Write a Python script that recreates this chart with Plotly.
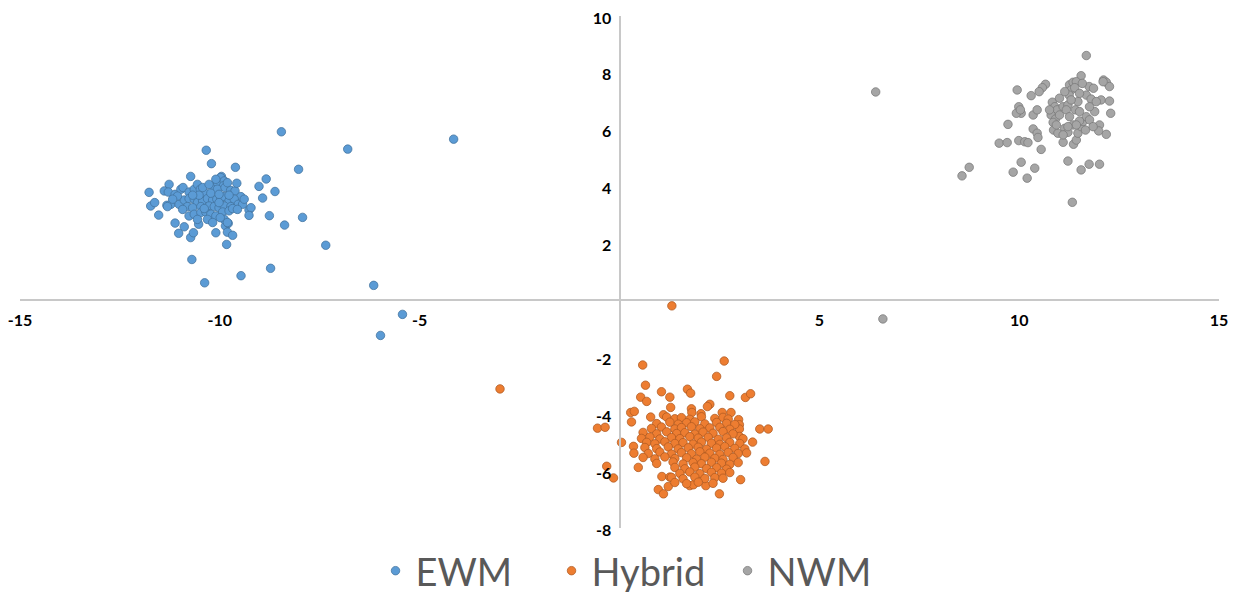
import plotly.graph_objects as go

series_names = ["EWM", "Hybrid", "NWM"]
series_colors = ["#5B9BD5", "#ED7D31", "#A5A5A5"]
series_edges = ["#41719C", "#AE5A21", "#787878"]

x_ticks = [-15, -10, -5, 5, 10, 15]
y_ticks = [-8, -6, -4, -2, 2, 4, 6, 8, 10]

ewm_points = [
    (-8.46, 5.93), (-10.34, 5.28), (-10.21, 4.81), (-9.61, 4.68), (-10.73, 4.36), (-8.84, 4.27),
    (-9.96, 4.36), (-9.02, 4.01), (-8.62, 3.83), (-8.93, 3.60), (-11.77, 3.80), (-11.27, 4.08),
    (-11.73, 3.32), (-11.63, 3.44), (-11.53, 3.00), (-8.76, 2.98), (-8.38, 2.65), (-9.27, 3.18),
    (-9.22, 3.26), (-9.27, 2.99), (-11.12, 2.72), (-10.89, 2.59), (-11.03, 2.36), (-10.73, 2.21),
    (-10.66, 2.38), (-10.53, 2.68), (-10.10, 2.38), (-9.83, 1.97), (-9.86, 2.62), (-9.79, 2.71),
    (-9.81, 2.40), (-9.68, 2.29), (-10.70, 1.44), (-8.73, 1.13), (-9.47, 0.87), (-10.38, 0.62),
    (-6.80, 5.32), (-4.15, 5.67), (-8.03, 4.61), (-7.93, 2.92), (-7.35, 1.94), (-6.15, 0.53),
    (-5.43, -0.49), (-5.98, -1.23),
    (-11.39, 3.85), (-11.29, 3.81), (-11.12, 3.73), (-10.975, 3.91), (-10.92, 3.97), (-10.77, 3.81),
    (-10.64, 3.91), (-10.56, 4.08), (-10.49, 3.91), (-10.35, 3.77), (-10.16, 4.03), (-10.06, 4.14),
    (-9.98, 4.32), (-9.89, 4.20), (-9.91, 4.03), (-10.06, 3.91), (-9.87, 3.97), (-9.73, 3.87),
    (-9.62, 3.85), (-9.575, 4.12), (-9.475, 3.65), (-11.325, 3.345), (-11.225, 3.38), (-11.02, 3.38),
    (-10.89, 3.53), (-10.77, 3.58), (-10.64, 3.56), (-10.56, 3.44), (-10.43, 3.50), (-10.31, 3.58),
    (-10.18, 3.53), (-10.075, 3.56), (-9.975, 3.58), (-9.89, 3.65), (-9.77, 3.50), (-9.64, 3.56),
    (-9.54, 3.38), (-9.43, 3.38), (-10.81, 3.30), (-10.68, 3.26), (-10.475, 3.30), (-10.27, 3.32),
    (-10.14, 3.30), (-10.02, 3.26), (-9.89, 3.32), (-9.725, 3.30), (-11.31, 3.30), (-10.77, 2.97),
    (-10.64, 3.03), (-10.475, 3.09), (-10.35, 3.11), (-10.225, 3.03), (-10.10, 2.97), (-9.93, 3.11),
    (-9.77, 3.15), (-9.68, 3.23), (-10.56, 2.85), (-10.31, 2.85), (-10.18, 2.74), (-9.89, 2.85),
    (-9.81, 2.74), (-9.99, 2.91), (-10.39, 3.23),
    (-11.06, 3.67), (-11.18, 3.56), (-10.52, 3.70), (-10.225, 3.77), (-10.02, 3.73), (-9.77, 3.70),
    (-10.68, 3.70), (-10.93, 3.20), (-9.56, 3.20), (-9.39, 3.56), (-10.43, 3.97), (-10.27, 4.08),
    (-10.10, 4.26), (-9.81, 4.14), (-10.02, 3.44),
]

hybrid_points = [
    (0.58, -2.27), (2.62, -2.13), (2.43, -2.67), (0.65, -2.98), (1.05, -3.21), (0.53, -3.40),
    (0.68, -3.55), (1.26, -3.40), (1.70, -3.12), (1.78, -3.26), (2.76, -3.35), (3.15, -3.41),
    (3.28, -3.28), (0.28, -3.94), (0.37, -3.90), (0.30, -4.27), (0.78, -4.10), (1.10, -4.02),
    (1.28, -3.76), (-0.55, -4.49), (-0.36, -4.46), (0.05, -4.99), (3.51, -4.52), (3.72, -4.52),
    (3.33, -4.98), (3.64, -5.66), (-0.32, -5.83), (-0.15, -6.24), (0.47, -5.87), (0.35, -5.13),
    (0.36, -5.37), (0.97, -6.65), (1.10, -6.80), (1.22, -6.54), (1.06, -6.19), (1.26, -6.21),
    (2.50, -6.80), (3.03, -6.30), (2.16, -6.51), (1.76, -6.51), (1.85, -6.48), (2.26, -3.65),
    (2.20, -3.73), (1.80, -3.81), (1.81, -3.94), (2.04, -3.98), (2.57, -3.94), (2.79, -3.94),
    (2.98, -4.19), (3.00, -4.37), (3.00, -4.52), (3.00, -4.78), (1.31, -0.19), (-2.99, -3.11),
    (1.18, -4.10), (1.385, -4.16), (1.55, -4.12), (1.76, -4.18), (2.05, -4.09), (2.385, -4.15),
    (2.59, -4.11), (2.72, -4.17),
    (0.93, -4.33), (1.26, -4.28), (1.47, -4.35), (1.68, -4.30), (1.885, -4.27), (2.135, -4.34),
    (2.43, -4.29), (2.68, -4.32), (2.885, -4.36),
    (0.80, -4.50), (1.05, -4.45), (1.385, -4.52), (1.55, -4.47), (1.80, -4.44), (2.01, -4.51),
    (2.26, -4.48), (2.51, -4.46), (2.76, -4.53),
    (0.59, -4.64), (0.93, -4.69), (1.18, -4.62), (1.43, -4.68), (1.635, -4.65), (1.885, -4.70),
    (2.09, -4.63), (2.34, -4.67), (2.59, -4.61), (2.84, -4.69),
    (0.55, -4.85), (0.76, -4.80), (1.01, -4.87), (1.30, -4.82), (1.51, -4.86), (1.76, -4.79),
    (1.97, -4.84), (2.22, -4.81), (2.47, -4.88), (2.68, -4.83), (3.09, -4.86),
    (0.68, -4.99), (0.885, -5.04), (1.135, -4.97), (1.385, -5.03), (1.59, -5.00), (1.84, -5.05),
    (2.05, -4.98), (2.30, -5.02), (2.51, -5.06), (2.76, -4.99), (3.01, -5.03),
    (0.635, -5.17), (0.93, -5.21), (1.22, -5.15), (1.47, -5.22), (1.72, -5.18), (1.97, -5.16),
    (2.18, -5.23), (2.43, -5.19), (2.635, -5.14), (2.885, -5.20), (3.135, -5.22),
    (0.72, -5.38), (1.01, -5.33), (1.30, -5.40), (1.55, -5.35), (1.80, -5.39), (2.01, -5.32),
    (2.26, -5.37), (2.51, -5.41), (2.72, -5.34), (2.97, -5.38), (3.18, -5.36),
    (0.59, -5.52), (0.885, -5.57), (1.135, -5.50), (1.385, -5.56), (1.68, -5.53), (1.93, -5.58),
    (2.135, -5.51), (2.385, -5.55), (2.59, -5.59), (2.84, -5.52),
    (0.93, -5.73), (1.34, -5.68), (1.59, -5.75), (1.84, -5.70), (2.05, -5.74), (2.30, -5.69),
    (2.55, -5.72), (2.76, -5.76), (2.97, -5.70),
    (1.385, -5.87), (1.635, -5.92), (1.885, -5.86), (2.18, -5.91), (2.43, -5.88), (2.68, -5.93),
    (1.51, -6.08), (1.76, -6.03), (2.01, -6.09), (2.30, -6.04), (2.55, -6.07), (2.76, -6.05),
    (1.30, -6.22), (1.59, -6.27), (1.885, -6.21), (2.135, -6.26), (2.385, -6.23), (2.59, -6.25),
    (1.385, -6.40), (1.68, -6.44), (1.97, -6.39), (2.34, -6.43),
]

nwm_points = [
    (11.68, 8.61), (11.55, 7.90), (12.11, 7.75), (12.18, 7.67), (12.26, 7.52), (10.66, 7.60),
    (10.58, 7.48), (10.50, 7.34), (9.95, 7.40), (10.30, 7.20), (11.26, 7.58), (11.35, 7.67),
    (11.43, 7.69), (11.30, 7.40), (11.39, 7.48), (11.25, 7.22), (11.75, 7.52), (11.86, 7.46),
    (11.68, 7.22), (11.80, 7.08), (12.05, 7.05), (12.26, 7.01), (12.29, 6.58), (11.51, 7.28),
    (11.47, 6.99), (11.41, 6.70), (9.99, 6.81), (10.05, 6.58), (9.93, 6.58), (10.03, 6.70),
    (10.35, 6.52), (10.45, 6.70), (10.83, 6.97), (10.89, 6.81), (10.95, 6.70), (10.80, 6.52),
    (10.91, 6.38), (10.85, 6.26), (11.01, 6.52), (11.10, 6.81), (11.22, 6.87), (11.18, 6.70),
    (9.72, 6.19), (10.35, 6.03), (10.45, 5.88), (10.47, 5.73), (9.50, 5.53), (9.70, 5.55),
    (9.99, 5.62), (10.14, 5.58), (10.22, 5.55), (10.55, 5.31), (10.86, 5.99), (10.97, 5.88),
    (11.14, 6.05), (11.22, 5.91), (11.10, 5.56), (11.36, 5.49), (11.43, 5.64), (11.47, 5.88),
    (11.35, 6.17), (11.55, 6.11), (11.60, 6.29), (11.68, 6.46), (11.76, 6.35), (11.89, 6.64),
    (12.01, 6.17), (11.99, 5.96), (12.18, 5.84), (11.66, 5.99), (11.51, 6.31), (11.43, 6.17),
    (11.22, 6.11), (11.10, 5.82), (11.22, 4.90), (11.55, 4.59), (11.75, 4.79), (12.01, 4.79),
    (10.05, 4.86), (9.85, 4.51), (10.20, 4.30), (10.39, 4.65), (8.75, 4.68), (8.57, 4.38),
    (11.33, 3.45), (6.41, 7.33), (6.59, -0.65),
    (11.01, 7.11), (11.14, 7.34), (11.58, 7.63), (11.30, 7.05), (10.76, 6.70), (10.93, 6.17),
    (11.26, 6.46), (11.76, 6.81), (11.93, 6.99), (11.51, 6.64), (11.85, 6.11), (12.10, 7.69),
]

all_series = [ewm_points, hybrid_points, nwm_points]

fig = go.Figure()
for name, pts, col, edge in zip(series_names, all_series, series_colors, series_edges):
    fig.add_trace(go.Scatter(
        x=[p[0] for p in pts], y=[p[1] for p in pts],
        mode="markers", name=name,
        marker=dict(size=8.5, color=col, line=dict(color=edge, width=0.75)),
    ))

x_range = [-15, 15]
y_range = [-8, 10]
x_cross = (0 - y_range[0]) / (y_range[1] - y_range[0])
y_cross = (0 - x_range[0]) / (x_range[1] - x_range[0])

tick_font = dict(family="Lato", size=16, color="#000000", weight="bold")

# page body has an 8px default margin, so the figure is sized to fit the window
fig.update_layout(
    width=1231, height=584,
    margin=dict(l=12, r=20, t=8, b=64),
    paper_bgcolor="white", plot_bgcolor="white",
    showlegend=True,
    legend=dict(orientation="h", x=0.5167, xanchor="center",
                yref="container", y=0.036, yanchor="middle",
                font=dict(family="Lato", size=38, color="#595959"),
                itemsizing="trace", tracegroupgap=0,
                entrywidth=131, entrywidthmode="pixels"),
    xaxis=dict(range=x_range, anchor="free", position=x_cross, showline=True,
               linecolor="#C8C8C8", linewidth=2, showgrid=False, zeroline=False,
               tickvals=x_ticks, ticktext=[str(v) for v in x_ticks], ticks="",
               tickfont=tick_font, ticklabelstandoff=5, automargin=False,
               ticklabeloverflow="allow"),
    yaxis=dict(range=y_range, anchor="free", position=y_cross, showline=True,
               linecolor="#C8C8C8", linewidth=2, showgrid=False, zeroline=False,
               tickvals=y_ticks, ticktext=[str(v) for v in y_ticks], ticks="",
               tickfont=tick_font, ticklabelstandoff=4, ticklabelshift=2,
               automargin=False, ticklabeloverflow="allow"),
)

fig.write_html("out.html")
